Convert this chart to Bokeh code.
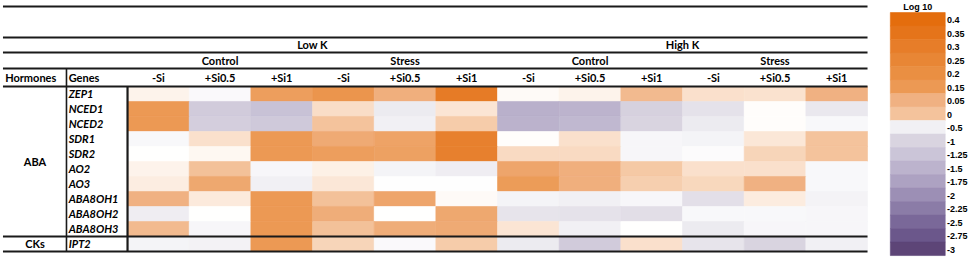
from bokeh.plotting import figure
from bokeh.models import ColumnDataSource, LinearColorMapper, Range1d
from bokeh.transform import transform
from bokeh.core.properties import value
from bokeh.embed import file_html
from bokeh.resources import INLINE

# ---------------- data ----------------
k_levels = ["Low K", "High K"]
conditions = ["Control", "Stress"]
si_levels = ["-Si", "+Si0.5", "+Si1"]
hormones = ["ABA", "CKs"]
genes = ["ZEP1", "NCED1", "NCED2", "SDR1", "SDR2", "AO2", "AO3",
         "ABA8OH1", "ABA8OH2", "ABA8OH3", "IPT2"]
gene_hormone = ["ABA"] * 10 + ["CKs"]

# log10 values, columns: LowK Control(-Si,+Si0.5,+Si1) Stress(...), HighK Control(...) Stress(...)
zep1 =    [-0.22, -0.38, 0.13, 0.17, 0.06, 0.31, -0.27, -0.22, 0.03, -0.10, -0.11, 0.05]
nced1 =   [0.15, -1.15, -1.30, -0.09, -0.60, -0.13, -1.55, -1.50, -1.05, -0.75, -0.28, -0.65]
nced2 =   [0.15, -1.10, -1.18, 0.00, -0.50, -0.03, -1.52, -1.43, -1.00, -0.60, -0.28, -0.40]
sdr1 =    [-0.40, -0.10, 0.15, 0.08, 0.11, 0.28, -0.28, -0.10, -0.42, -0.45, -0.14, 0.00]
sdr2 =    [-0.30, -0.25, 0.15, 0.13, 0.12, 0.28, -0.08, -0.08, -0.42, -0.35, -0.06, 0.00]
ao2 =     [-0.22, 0.01, -0.42, -0.20, -0.45, -0.55, 0.10, 0.06, -0.02, -0.10, -0.10, -0.40]
ao3 =     [-0.18, 0.09, -0.50, -0.14, -0.32, -0.32, 0.14, 0.06, -0.04, -0.07, 0.05, -0.40]
aba8oh1 = [0.05, -0.16, 0.15, 0.01, 0.10, -0.27, -0.45, -0.50, -0.42, -0.80, -0.17, -0.46]
aba8oh2 = [-0.55, -0.30, 0.15, 0.07, -0.30, 0.09, -0.72, -0.75, -0.82, -0.40, -0.40, -0.42]
aba8oh3 = [0.03, -0.42, 0.15, 0.01, 0.07, 0.08, -0.13, -0.50, -0.30, -0.60, -0.42, -0.42]
ipt2 =    [-0.45, -0.48, 0.15, -0.06, -0.38, -0.03, -0.60, -1.15, -0.10, -0.72, -1.00, -0.50]
rows = [zep1, nced1, nced2, sdr1, sdr2, ao2, ao3, aba8oh1, aba8oh2, aba8oh3, ipt2]

legend_values = [0.4, 0.35, 0.3, 0.25, 0.2, 0.15, 0.05, 0, -0.5, -1, -1.25,
                 -1.5, -1.75, -2, -2.25, -2.5, -2.75, -3]
legend_labels = ["0.4", "0.35", "0.3", "0.25", "0.2", "0.15", "0.05", "0", "-0.5",
                 "-1", "-1.25", "-1.5", "-1.75", "-2", "-2.25", "-2.5", "-2.75", "-3"]
legend_title = "Log 10"

# ---------------- colour scale (style) ----------------
stops = [(-3.0, "#5D4577"), (-2.75, "#6B578B"), (-2.5, "#7A6899"), (-2.25, "#8B7CA7"),
         (-2.0, "#9C8FB5"), (-1.75, "#ADA2C2"), (-1.5, "#BCB3CD"), (-1.25, "#CBC5D8"),
         (-1.0, "#D9D4E0"), (-0.5, "#F1F0F4"), (-0.3, "#FFFFFF"), (-0.2, "#FDF1E7"),
         (-0.1, "#FAE1CD"), (0.0, "#F4C49D"), (0.05, "#F0B283"), (0.15, "#EC9A55"),
         (0.2, "#EA8F43"), (0.25, "#E88636"), (0.3, "#E77D2A"), (0.35, "#E5741B"),
         (0.4, "#E46D0D"), (0.45, "#E36A08")]
LOW, HIGH, N = -3.0, 0.45, 690


def _rgb(h):
    return tuple(int(h[i:i + 2], 16) for i in (1, 3, 5))


palette = []
for k in range(N):
    t = LOW + (HIGH - LOW) * (k + 0.5) / N
    for (v0, c0), (v1, c1) in zip(stops[:-1], stops[1:]):
        if v0 <= t <= v1:
            f = (t - v0) / (v1 - v0)
            a, b = _rgb(c0), _rgb(c1)
            palette.append("#%02x%02x%02x" % tuple(round(a[i] + (b[i] - a[i]) * f) for i in range(3)))
            break
mapper = LinearColorMapper(palette=palette, low=LOW, high=HIGH)

# ---------------- figure ----------------
p = figure(width=970, height=263, output_backend="svg", toolbar_location=None,
           x_range=Range1d(-2.06, 13.67), y_range=Range1d(11.8, -5.733),
           min_border=0)
p.axis.visible = False
p.grid.visible = False
p.outline_line_color = None
p.background_fill_color = "white"

n_cols = len(k_levels) * len(conditions) * len(si_levels)
cx, cy, cv = [], [], []
for i, r in enumerate(rows):
    for j, v in enumerate(r):
        cx.append(j + 0.5)
        cy.append(i + 0.5)
        cv.append(v)
cells = ColumnDataSource(dict(x=cx, y=cy, v=cv))
p.rect("x", "y", width=1, height=1, source=cells, fill_color=transform("v", mapper),
       line_color=transform("v", mapper), line_width=0.6)

FONT = value("Lato")
LINE = "#1a1a1a"
FS = "11px"

# table lines
n_aba = gene_hormone.count("ABA")
hy = [-5.333, -3.267, -2.267, -1.2, 0, n_aba, len(genes)]
p.segment(x0=[-2.02] * len(hy), x1=[n_cols] * len(hy), y0=hy, y1=hy,
          line_color=LINE, line_width=1.8)
p.segment(x0=[-0.99], x1=[-0.99], y0=[-1.2], y1=[len(genes)], line_color=LINE, line_width=1.6)
p.segment(x0=[0], x1=[0], y0=[0], y1=[len(genes)], line_color=LINE, line_width=2.2)

# header texts
per_k = len(conditions) * len(si_levels)
p.text(x=[per_k * (k + 0.5) for k in range(len(k_levels))], y=[-2.77] * len(k_levels),
       text=k_levels, text_align="center", text_baseline="middle", text_font=FONT,
       text_font_style="bold", text_font_size=FS, text_color="black")
cond_x, cond_t = [], []
for k in range(len(k_levels)):
    for c, name in enumerate(conditions):
        cond_x.append(k * per_k + len(si_levels) * (c + 0.5))
        cond_t.append(name)
p.text(x=cond_x, y=[-1.72] * len(cond_x), text=cond_t, text_align="center",
       text_baseline="middle", text_font=FONT, text_font_style="bold",
       text_font_size=FS, text_color="black")
si_t = si_levels * (len(k_levels) * len(conditions))
p.text(x=[j + 0.5 for j in range(n_cols)], y=[-0.6] * n_cols, text=si_t,
       text_align="center", text_baseline="middle", text_font=FONT,
       text_font_style="bold", text_font_size=FS, text_color="black")
p.text(x=[-1.57], y=[-0.6], text=["Hormones"], text_align="center", text_baseline="middle",
       text_font=FONT, text_font_style="bold", text_font_size=FS, text_color="black")
p.text(x=[-0.955], y=[-0.6], text=["Genes"], text_align="left", text_baseline="middle",
       text_font=FONT, text_font_style="bold", text_font_size=FS, text_color="black")

# gene labels
p.text(x=[-0.955] * len(genes), y=[i + 0.5 for i in range(len(genes))], text=genes,
       text_align="left", text_baseline="middle", text_font=FONT,
       text_font_style="bold italic", text_font_size=FS, text_color="black")
# hormone labels
hx, hyy = [], []
for h in hormones:
    idx = [i for i, g in enumerate(gene_hormone) if g == h]
    hx.append(-1.5)
    hyy.append((idx[0] + idx[-1] + 1) / 2)
p.text(x=hx, y=hyy, text=hormones, text_align="center", text_baseline="middle",
       text_font=FONT, text_font_style="bold", text_font_size=FS, text_color="black")

# legend
band_h = 0.9
ly0 = -4.93
lsrc = ColumnDataSource(dict(y=[ly0 + band_h * (i + 0.5) for i in range(len(legend_values))],
                             v=legend_values, t=legend_labels))
p.rect(x=12.815, y="y", width=0.89, height=band_h, source=lsrc,
       fill_color=transform("v", mapper), line_color=transform("v", mapper), line_width=0.6)
p.text(x=13.29, y="y", text="t", source=lsrc, text_align="left", text_baseline="middle",
       y_offset=1, text_font=value("Liberation Sans"), text_font_style="bold",
       text_font_size="9px", text_color="black")
p.text(x=[12.815], y=[ly0 - 0.06], text=[legend_title], text_align="center",
       text_baseline="bottom", text_font=value("Liberation Sans"), text_font_style="bold",
       text_font_size="9px", text_color="black")

open("out.html", "w").write(file_html(p, INLINE))
